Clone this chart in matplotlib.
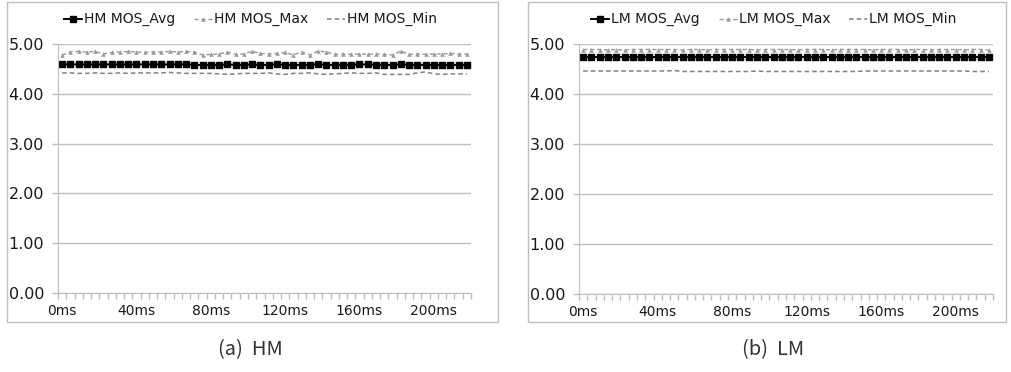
import numpy as np
import matplotlib
matplotlib.use('Agg')
import matplotlib.pyplot as plt
from matplotlib.patches import Rectangle

# category labels (every 9th category is labelled)
n_points = 50
tick_labels = ['0ms', '40ms', '80ms', '120ms', '160ms', '200ms']
label_idx = [0, 9, 18, 27, 36, 45]

hm_avg = [4.59, 4.59, 4.59, 4.59, 4.59, 4.59, 4.59, 4.59, 4.59, 4.59,
          4.59, 4.59, 4.59, 4.59, 4.59, 4.59, 4.58, 4.58, 4.58, 4.58,
          4.59, 4.58, 4.58, 4.59, 4.58, 4.58, 4.59, 4.58, 4.58, 4.58,
          4.58, 4.59, 4.58, 4.58, 4.58, 4.58, 4.59, 4.59, 4.58, 4.58,
          4.58, 4.59, 4.58, 4.58, 4.58, 4.58, 4.58, 4.58, 4.58, 4.58]
hm_max = [4.78, 4.84, 4.85, 4.84, 4.85, 4.80, 4.83, 4.84, 4.85, 4.84,
          4.83, 4.84, 4.84, 4.85, 4.84, 4.85, 4.84, 4.78, 4.79, 4.80,
          4.84, 4.79, 4.80, 4.85, 4.81, 4.80, 4.81, 4.83, 4.78, 4.84,
          4.78, 4.86, 4.84, 4.79, 4.80, 4.79, 4.80, 4.79, 4.80, 4.79,
          4.78, 4.86, 4.79, 4.80, 4.79, 4.80, 4.80, 4.81, 4.80, 4.80]
hm_min = [4.42, 4.42, 4.41, 4.41, 4.42, 4.41, 4.41, 4.42, 4.41, 4.42,
          4.42, 4.42, 4.42, 4.43, 4.42, 4.41, 4.41, 4.41, 4.41, 4.40,
          4.39, 4.40, 4.41, 4.41, 4.41, 4.42, 4.40, 4.39, 4.41, 4.41,
          4.42, 4.40, 4.39, 4.40, 4.41, 4.42, 4.41, 4.41, 4.42, 4.39,
          4.39, 4.39, 4.39, 4.42, 4.44, 4.40, 4.39, 4.40, 4.40, 4.40]

lm_avg = [4.75] * 50
lm_max = [4.89, 4.89, 4.89, 4.88, 4.89, 4.88, 4.89, 4.89, 4.89, 4.89,
          4.89, 4.89, 4.88, 4.89, 4.89, 4.88, 4.89, 4.89, 4.89, 4.89,
          4.89, 4.88, 4.89, 4.89, 4.89, 4.89, 4.88, 4.89, 4.89, 4.89,
          4.88, 4.89, 4.89, 4.89, 4.89, 4.88, 4.89, 4.89, 4.89, 4.88,
          4.89, 4.89, 4.88, 4.89, 4.89, 4.89, 4.88, 4.89, 4.89, 4.88]
lm_min = [4.46, 4.46, 4.46, 4.46, 4.46, 4.46, 4.46, 4.46, 4.46, 4.46,
          4.46, 4.47, 4.45, 4.45, 4.45, 4.45, 4.45, 4.45, 4.45, 4.45,
          4.45, 4.46, 4.45, 4.45, 4.45, 4.45, 4.45, 4.45, 4.45, 4.45,
          4.45, 4.45, 4.45, 4.45, 4.46, 4.46, 4.46, 4.46, 4.46, 4.46,
          4.46, 4.46, 4.46, 4.46, 4.46, 4.46, 4.46, 4.45, 4.45, 4.45]

plt.rcParams['font.family'] = ['DejaVu Sans']

W, H = 1012, 372
fig = plt.figure(figsize=(W / 100, H / 100), dpi=100)

grey = '#BFBFBF'
max_grey = '#9A9A9A'
min_grey = '#808080'
text_col = '#1A1A1A'

# overlay in pixel coordinates (origin top-left) for frames and legends
over = fig.add_axes([0, 0, 1, 1], zorder=5)
over.set_xlim(0, W)
over.set_ylim(H, 0)
over.axis('off')
over.patch.set_alpha(0)

styles = {
    'avg': dict(color='black', linewidth=1.4, marker='s', markersize=4.3),
    'max': dict(color=max_grey, linestyle=(0, (3, 2)), linewidth=1.0,
                marker='^', markersize=3.3, markeredgewidth=0),
    'min': dict(color=min_grey, linestyle=(0, (3, 2)), linewidth=1.1),
}


def px_axes(x0, y0, x1, y1):
    return fig.add_axes([x0 / W, 1 - y1 / H, (x1 - x0) / W, (y1 - y0) / H])


def draw_legend(x, y, labels):
    renderer = fig.canvas.get_renderer()
    for key, lab in zip(['avg', 'max', 'min'], labels):
        st = styles[key]
        over.plot([x, x + 18], [y, y], color=st['color'],
                  linewidth=st['linewidth'], linestyle=st.get('linestyle', '-'))
        if 'marker' in st:
            over.plot([x + 9], [y], linestyle='none', marker=st['marker'],
                      markersize=st['markersize'], color=st['color'],
                      markeredgewidth=st.get('markeredgewidth', 1))
        t = over.text(x + 20, y, lab, ha='left', va='center', fontsize=10,
                      color=text_col)
        w = t.get_window_extent(renderer).width
        x += 20 + w + 19


def draw_panel(box, plot, avg, mx, mn, prefix, leg_x, caption, cap_x):
    bx0, by0, bx1, by1 = box
    over.add_patch(Rectangle((bx0, by0), bx1 - bx0, by1 - by0, fill=False,
                             edgecolor=grey, linewidth=1.0))
    ax = px_axes(*plot)
    x = np.arange(n_points)
    ax.plot(x, mn, **styles['min'])
    ax.plot(x, mx, **styles['max'])
    ax.plot(x, avg, **styles['avg'])

    ax.set_xlim(-0.5, n_points - 0.5)
    ax.set_ylim(0, 5)
    ax.set_yticks([0, 1, 2, 3, 4, 5])
    ax.set_yticklabels(['%.2f' % v for v in [0, 1, 2, 3, 4, 5]], fontsize=11.5,
                       color=text_col)
    ax.yaxis.grid(True, color=grey, linewidth=1.0)
    ax.set_axisbelow(True)
    ax.set_xticks(label_idx)
    ax.set_xticklabels(tick_labels, fontsize=10, color=text_col)
    ax.set_xticks(np.arange(-0.5, n_points, 1), minor=True)
    ax.tick_params(axis='x', which='major', length=0, pad=8)
    ax.tick_params(axis='x', which='minor', length=4, color=grey, width=1)
    ax.tick_params(axis='y', length=4, color=grey, width=1, pad=6)
    for s in ['top', 'right']:
        ax.spines[s].set_visible(False)
    for s in ['left', 'bottom']:
        ax.spines[s].set_color(grey)

    draw_legend(leg_x, 19, [prefix + ' MOS_Avg', prefix + ' MOS_Max',
                            prefix + ' MOS_Min'])

    over.text(cap_x, 350, caption, ha='center', va='center', fontsize=14.5,
              family=['Noto Sans CJK KR', 'DejaVu Sans'], fontweight='light',
              color='#333333')
    return ax


draw_panel((7, 2, 498, 322), (58, 44, 471, 293), hm_avg, hm_max, hm_min,
           'HM', 64, '(a)  HM', 250)
draw_panel((528, 2, 1006, 322), (579, 44, 993, 294), lm_avg, lm_max, lm_min,
           'LM', 591, '(b)  LM', 773)

fig.savefig('out.png', dpi=100)
